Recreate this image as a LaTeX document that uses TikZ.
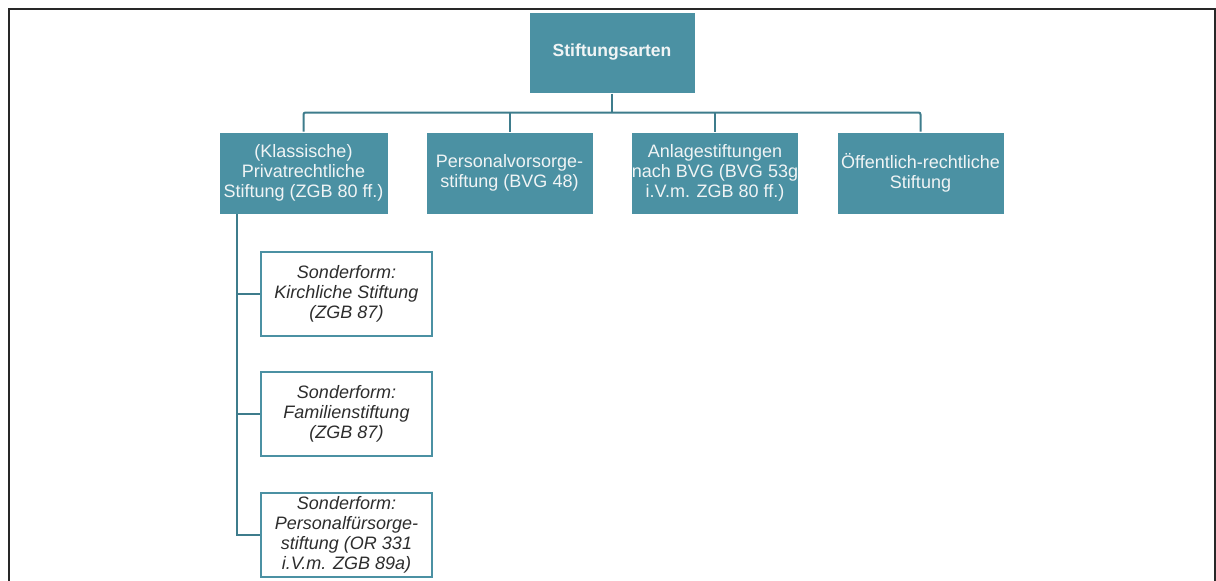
\documentclass[tikz,border=0pt]{standalone}
\usepackage{fontspec}
\setmainfont{Liberation Sans}
\definecolor{tealfill}{RGB}{75,145,163}
\definecolor{tealline}{RGB}{62,124,140}
\definecolor{boxtext}{RGB}{240,244,245}
\definecolor{childtext}{RGB}{45,45,45}
\definecolor{framecol}{RGB}{40,40,40}
\begin{document}
\begin{tikzpicture}[x=1pt,y=-1pt,
  mainbox/.style={fill=tealfill, draw=white, line width=1pt, text=boxtext,
    align=center, inner sep=0pt, font=\fontsize{18}{20}\selectfont},
  childbox/.style={fill=white, draw=tealfill, line width=2pt, text=childtext,
    align=center, inner sep=0pt, minimum width=171pt, minimum height=84pt,
    font=\fontsize{18}{20}\selectfont\itshape},
  conn/.style={draw=tealline, line width=2pt},
  frame/.style={draw=framecol, line width=2pt}]
\useasboundingbox (0,0) rectangle (1216,581);
\draw[frame] (8.5,582) -- (8.5,8.5) -- (1215,8.5) -- (1215,582);

\node[mainbox, minimum width=166pt, minimum height=81pt, font=\fontsize{17.5}{20}\selectfont\bfseries] (top) at (612,52.5) {Stiftungsarten};

\node[mainbox, minimum width=169pt, minimum height=82pt] (b1) at (303.5,173) {(Klassische)\\Privatrechtliche\\Stiftung (ZGB 80 ff.)};
\node[mainbox, minimum width=167pt, minimum height=82pt] (b2) at (509.5,173) {Personalvorsorge-\\stiftung (BVG 48)};
\node[mainbox, minimum width=167pt, minimum height=82pt] (b3) at (715,173) {Anlagestiftungen\\nach BVG (BVG 53g\\i.V.m. ZGB 80 ff.)};
\node[mainbox, minimum width=167pt, minimum height=82pt] (b4) at (920.5,173) {Öffentlich-rechtliche\\Stiftung};

\node[childbox] (cA) at (346.5,294) {Sonderform:\\Kirchliche Stiftung\\(ZGB 87)};
\node[childbox] (cB) at (346.5,414) {Sonderform:\\Familienstiftung\\(ZGB 87)};
\node[childbox] (cC) at (346.5,535) {Sonderform:\\Personalfürsorge-\\stiftung (OR 331\\i.V.m. ZGB 89a)};

\coordinate (bus) at (612,112.5);
\coordinate (spine) at (237,214);

\draw[conn] (top.south) -- (bus);
\draw[conn, rounded corners=2pt] (b1.north) -- (b1.north |- bus) -- (b4.north |- bus) -- (b4.north);
\draw[conn] (b2.north) -- (b2.north |- bus);
\draw[conn] (b3.north) -- (b3.north |- bus);

\draw[conn] (spine) |- (cC.west);
\draw[conn] (cA.west) -- (cA.west -| spine);
\draw[conn] (cB.west) -- (cB.west -| spine);
\end{tikzpicture}
\end{document}
